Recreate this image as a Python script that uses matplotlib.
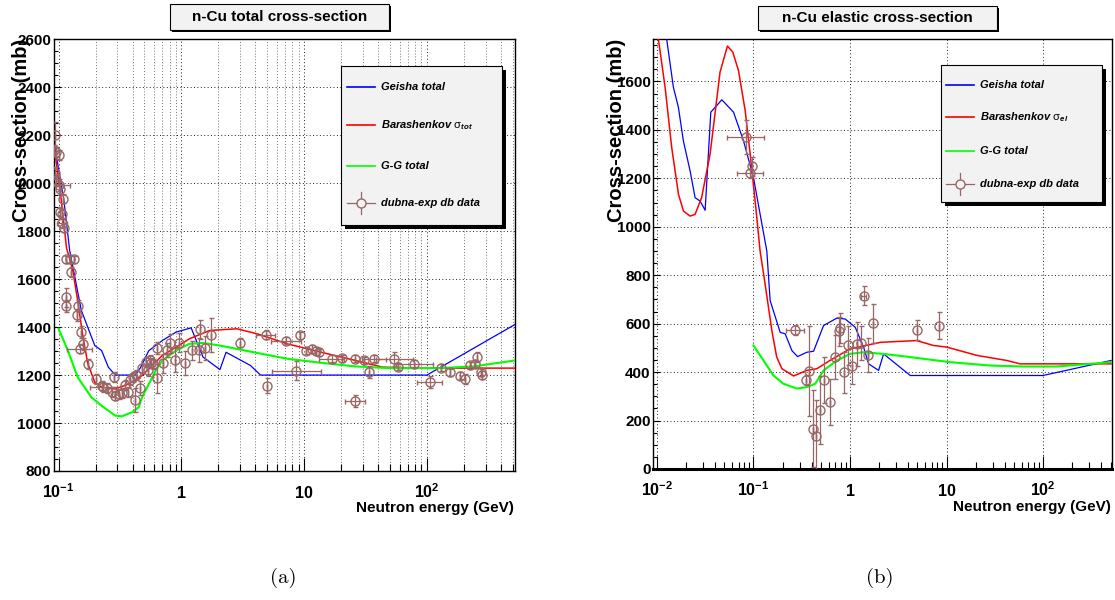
import numpy as np
import matplotlib
matplotlib.use('Agg')
import matplotlib.pyplot as plt
from matplotlib.patches import Rectangle
from matplotlib.lines import Line2D
from matplotlib.ticker import FixedLocator, LogLocator, MultipleLocator, NullFormatter
from matplotlib import font_manager

# ---------------- data: n-Cu total cross-section (mb) ----------------
geisha_tot_E = [0.094, 0.11, 0.123, 0.153, 0.197, 0.224, 0.254, 0.289, 0.422, 0.463, 0.543,
                0.70, 0.903, 1.20, 1.50, 2.06, 2.31, 3.65, 4.41, 100, 521]
geisha_tot = [2140, 1935, 1720, 1470, 1323, 1302, 1233, 1200, 1200, 1230, 1302,
              1344, 1379, 1397, 1275, 1223, 1295, 1240, 1200, 1200, 1411]

bar_tot_E = [0.092, 0.104, 0.116, 0.130, 0.143, 0.158, 0.173, 0.197, 0.224, 0.289, 0.372, 0.478,
             0.579, 0.70, 0.903, 1.16, 1.70, 2.83, 4.14, 7.3, 13.8, 26.1, 43.3, 92.7, 521]
bar_tot = [2150, 1950, 1730, 1640, 1511, 1358, 1247, 1170, 1149, 1142, 1163, 1198,
           1240, 1282, 1316, 1351, 1386, 1393, 1372, 1330, 1295, 1261, 1233, 1229, 1229]

gg_tot_E = [0.1, 0.119, 0.143, 0.185, 0.224, 0.289, 0.327, 0.396, 0.449, 0.478, 0.543, 0.618,
            0.70, 0.903, 1.16, 1.50, 2.06, 3.89, 7.3, 13.8, 26.1, 49.2, 127, 240, 521]
gg_tot = [1393, 1302, 1191, 1107, 1072, 1031, 1028, 1045, 1066, 1107, 1163, 1219,
          1261, 1302, 1330, 1334, 1323, 1295, 1268, 1251, 1236, 1229, 1229, 1236, 1261]

# experimental points: energy, value, y error, half-width of x error in log10(E)
exp_tot_E = [0.0935, 0.0918, 0.096, 0.101, 0.0935, 0.096, 0.100, 0.103, 0.109, 0.103, 0.107,
             0.106, 0.110, 0.114, 0.123, 0.133, 0.127, 0.114, 0.114, 0.143, 0.141, 0.153,
             0.158, 0.148, 0.175, 0.20, 0.23, 0.224, 0.25, 0.27, 0.28, 0.29, 0.31, 0.33,
             0.35, 0.37, 0.38, 0.40, 0.42, 0.43, 0.46, 0.48, 0.51, 0.53, 0.55, 0.57, 0.59,
             0.63, 0.63, 0.71, 0.76, 0.81, 0.89, 0.96, 1.07, 1.21, 1.39, 1.41, 1.56, 1.74,
             3.0, 4.85, 5.0, 7.1, 8.6, 9.2, 10.4, 11.5, 12.5, 13.2, 16.7, 20.2, 26, 26,
             30.5, 33.6, 37, 54, 57.7, 79, 105, 131, 154, 186, 205, 226, 248, 256, 273, 282]
exp_tot = [2200, 2140, 2130, 2117, 2042, 2012, 1992, 1975, 1936, 1880, 1870,
           1832, 1815, 1682, 1682, 1682, 1630, 1525, 1490, 1490, 1449, 1379,
           1330, 1310, 1247, 1184, 1149, 1156, 1145, 1130, 1191, 1114, 1121, 1125,
           1158, 1130, 1179, 1193, 1096, 1200, 1146, 1228, 1255, 1221, 1262, 1250, 1245,
           1186, 1311, 1249, 1304, 1332, 1262, 1335, 1249, 1304, 1304, 1390, 1311, 1367,
           1335, 1369, 1156, 1344, 1219, 1365, 1302, 1309, 1300, 1295, 1268, 1270, 1268, 1091,
           1262, 1212, 1268, 1268, 1235, 1247, 1170, 1230, 1212, 1198, 1184, 1240, 1248, 1275, 1212, 1200]
exp_tot_err = [55, 20, 20, 20, 25, 25, 25, 20, 20, 20, 20,
               20, 20, 15, 15, 15, 20, 40, 25, 25, 25, 25,
               25, 20, 20, 20, 20, 20, 20, 20, 20, 20, 20, 20,
               20, 20, 20, 20, 50, 20, 30, 20, 20, 25, 20, 20, 20,
               60, 25, 40, 30, 40, 50, 40, 50, 40, 50, 40, 50, 70,
               20, 20, 30, 15, 40, 15, 15, 15, 15, 15, 15, 15, 15, 25,
               15, 25, 15, 30, 15, 15, 25, 15, 15, 15, 20, 15, 15, 20, 15, 15]
exp_tot_dlogE = [0, 0, 0, 0, 0, 0, 0.09, 0, 0, 0, 0,
                 0.04, 0, 0, 0, 0, 0, 0, 0, 0, 0, 0,
                 0, 0.105, 0, 0, 0.11, 0, 0, 0, 0, 0, 0, 0,
                 0, 0, 0, 0, 0, 0, 0, 0, 0, 0, 0, 0, 0,
                 0, 0, 0, 0, 0, 0, 0, 0, 0, 0, 0, 0, 0,
                 0, 0.08, 0, 0.12, 0.2, 0, 0, 0, 0, 0, 0.1, 0, 0, 0.08,
                 0, 0, 0.1, 0.15, 0, 0.15, 0.1, 0, 0, 0, 0, 0, 0, 0, 0, 0]

# ---------------- data: n-Cu elastic cross-section (mb) ----------------
geisha_el_E = [0.01262, 0.01479, 0.01667, 0.01878, 0.02203, 0.02483, 0.02799, 0.03155, 0.03612,
               0.04699, 0.06209, 0.07877, 0.1, 0.1172, 0.1374, 0.1488, 0.1891, 0.2130, 0.2498,
               0.2860, 0.3574, 0.4190, 0.5318, 0.7313, 0.8927, 1.133, 1.382, 1.559, 1.978,
               2.228, 4.212, 100, 507]
geisha_el = [1773, 1576, 1493, 1354, 1231, 1120, 1106, 1068, 1473,
             1524, 1473, 1355, 1203, 1051, 900, 695, 564, 558, 489,
             464, 482, 486, 592, 623, 619, 585, 503, 434, 407,
             475, 386, 386, 448]

bar_el_E = [0.01035, 0.01214, 0.0142, 0.0167, 0.0188, 0.022, 0.0248, 0.029, 0.0355, 0.045,
            0.0537, 0.0610, 0.0699, 0.0820, 0.0924, 0.1057, 0.117, 0.132, 0.155, 0.174,
            0.197, 0.26, 0.357, 0.454, 0.62, 1.0, 2.07, 4.9, 7.3, 10.1, 20.6, 42, 58, 507]
bar_el = [1773, 1576, 1328, 1134, 1065, 1044, 1051, 1120, 1300, 1638,
          1746, 1721, 1645, 1480, 1300, 1079, 900, 763, 571, 462,
          414, 384, 407, 414, 448, 496, 523, 530, 510, 503, 469, 448, 434, 434]

gg_el_E = [0.1, 0.127, 0.161, 0.204, 0.281, 0.357, 0.436, 0.532, 0.731, 1.0, 1.38, 2.23,
           4.2, 10.9, 28.5, 63, 138, 507]
gg_el = [510, 448, 386, 352, 332, 338, 352, 407, 448, 475, 482, 475,
         462, 441, 427, 423, 423, 441]

exp_el_E = [0.0833, 0.096, 0.092, 0.270, 0.349, 0.378, 0.412, 0.447, 0.483, 0.544, 0.614,
            0.703, 0.761, 0.792, 0.871, 0.951, 1.06, 1.18, 1.30, 1.38, 1.53, 1.73, 4.94, 8.28]
exp_el = [1372, 1249, 1220, 574, 366, 404, 167, 136, 245, 366, 277,
          462, 569, 582, 400, 510, 427, 516, 520, 715, 470, 601, 574, 592]
exp_el_err = [70, 40, 20, 20, 20, 185, 160, 150, 140, 95, 95,
              90, 60, 60, 85, 80, 75, 90, 70, 40, 70, 80, 40, 55]
exp_el_dlogE = [0.19, 0, 0.13, 0.09, 0, 0, 0, 0, 0, 0, 0,
                0, 0, 0, 0, 0, 0, 0, 0, 0.03, 0, 0, 0, 0]

# ---------------- styling ----------------
names = {f.name for f in font_manager.fontManager.ttflist}
NARROW = 'Liberation Sans Narrow' if 'Liberation Sans Narrow' in names else 'Liberation Sans'
SANS = 'Liberation Sans'

plt.rcParams['font.family'] = [SANS, 'DejaVu Sans']
plt.rcParams['mathtext.fontset'] = 'custom'
plt.rcParams['mathtext.rm'] = SANS
plt.rcParams['mathtext.bf'] = SANS + ':bold'
plt.rcParams['mathtext.it'] = NARROW + ':bold:italic'

BLUE, RED, GREEN, EXP = '#0000ff', '#ff0000', '#00ff00', '#996666'

W, H = 1115, 600
fig = plt.figure(figsize=(W / 100, H / 100), dpi=100)


def fx(x):
    return x / W


def fy(y):
    return 1 - y / H


def xerr_from(E, dlog):
    E = np.asarray(E, float)
    d = np.asarray(dlog, float)
    return np.vstack([E - E * 10 ** (-d), E * 10 ** d - E])


def style_axes(ax, xlabels, ymax, yticks, minor_grid):
    ax.set_xscale('log')
    ax.set_ylim(yticks[0], ymax)
    ax.xaxis.set_major_locator(FixedLocator(list(xlabels.keys())))
    ax.xaxis.set_minor_locator(LogLocator(base=10, subs=np.arange(2, 10)))
    ax.xaxis.set_major_formatter(NullFormatter())
    ax.xaxis.set_minor_formatter(NullFormatter())
    ax.yaxis.set_major_locator(FixedLocator(yticks))
    ax.yaxis.set_minor_locator(MultipleLocator(50))
    ax.tick_params(axis='x', which='major', direction='in', length=9.4, width=0.8)
    ax.tick_params(axis='x', which='minor', direction='in', length=4.7, width=0.8)
    ax.tick_params(axis='y', which='major', direction='in', length=5, width=0.8, pad=2,
                   labelsize=11)
    ax.tick_params(axis='y', which='minor', direction='in', length=2.8, width=0.8)
    for lab in ax.get_yticklabels():
        lab.set_fontweight('bold')
    ax.grid(True, which='major', color='#222222', linestyle=(0, (1, 2.5)), linewidth=0.7)
    if minor_grid:
        ax.grid(True, which='minor', axis='x', color='#444444', linestyle=(0, (1, 2.5)),
                linewidth=0.6)
    for s in ax.spines.values():
        s.set_linewidth(1.0)
    # x tick labels aligned on a common baseline, as ROOT does
    tr = ax.get_xaxis_transform()
    for E, txt in xlabels.items():
        ax.text(E, -0.062, txt, transform=tr, ha='center', va='baseline', fontsize=11.5,
                fontweight='bold', clip_on=False)


def plot_panel(ax, curves, exp):
    for E, v, c, lw in curves:
        ax.plot(E, v, color=c, lw=lw, zorder=3)
    E, v, err, dlog = exp
    ax.errorbar(E, v, yerr=err, xerr=xerr_from(E, dlog), fmt='o', ms=6.5, mfc='none',
                mec=EXP, mew=1.0, ecolor=EXP, elinewidth=0.9, capsize=1.8, capthick=0.9,
                zorder=4)


def draw_box(x0, y0, x1, y1, shadow):
    fig.patches.append(Rectangle((fx(x0 + shadow), fy(y1 + shadow)), fx(x1) - fx(x0),
                                 fy(y0) - fy(y1), transform=fig.transFigure,
                                 fc='black', ec='none'))
    fig.patches.append(Rectangle((fx(x0), fy(y1)), fx(x1) - fx(x0), fy(y0) - fy(y1),
                                 transform=fig.transFigure, fc='#f2f2f2', ec='black', lw=0.8))


def draw_legend(box, rows, lx0, lx1, tx, labels):
    draw_box(*box, shadow=4)
    colors = [BLUE, RED, GREEN]
    for i, (yc, lab) in enumerate(zip(rows, labels)):
        if i < 3:
            fig.lines.append(Line2D([fx(lx0), fx(lx1)], [fy(yc), fy(yc)],
                                    transform=fig.transFigure, color=colors[i], lw=1.2))
        else:
            xm = (lx0 + lx1) / 2
            fig.lines.append(Line2D([fx(lx0), fx(lx1)], [fy(yc), fy(yc)],
                                    transform=fig.transFigure, color=EXP, lw=0.9))
            fig.lines.append(Line2D([fx(xm), fx(xm)], [fy(yc - 11), fy(yc + 11)],
                                    transform=fig.transFigure, color=EXP, lw=0.9))
            fig.lines.append(Line2D([fx(xm)], [fy(yc)], transform=fig.transFigure,
                                    marker='o', ms=6.5, mfc='#f2f2f2', mec=EXP, mew=1.0))
        fig.text(fx(tx), fy(yc), lab, ha='left', va='center', fontsize=8,
                 fontfamily=NARROW, fontweight='bold', fontstyle='italic')


# ---------------- left panel ----------------
ax1 = fig.add_axes([fx(54), fy(471), fx(515) - fx(54), fy(39.3) - fy(471)])
ax1.set_xlim(0.0917, 521)
plot_panel(ax1, [(geisha_tot_E, geisha_tot, BLUE, 0.9),
                 (bar_tot_E, bar_tot, RED, 1.1),
                 (gg_tot_E, gg_tot, GREEN, 1.5)],
           (exp_tot_E, exp_tot, exp_tot_err, exp_tot_dlogE))
style_axes(ax1, {0.1: r'$\mathbf{10^{-1}}$', 1: '1', 10: '10', 100: r'$\mathbf{10^{2}}$'},
           2600, list(range(800, 2601, 200)), True)

# ---------------- right panel ----------------
ax2 = fig.add_axes([fx(653.3), fy(469), fx(1111.5) - fx(653.3), fy(39) - fy(469)])
ax2.set_xlim(0.00916, 512)
plot_panel(ax2, [(geisha_el_E, geisha_el, BLUE, 0.9),
                 (bar_el_E, bar_el, RED, 1.1),
                 (gg_el_E, gg_el, GREEN, 1.5)],
           (exp_el_E, exp_el, exp_el_err, exp_el_dlogE))
style_axes(ax2, {0.01: r'$\mathbf{10^{-2}}$', 0.1: r'$\mathbf{10^{-1}}$', 1: '1', 10: '10',
                 100: r'$\mathbf{10^{2}}$'},
           1775, list(range(0, 1601, 200)), False)
ax2.spines['bottom'].set_linewidth(2.2)

# ---------------- titles, axis titles, legends, captions ----------------
draw_box(170, 4, 389, 30, shadow=2)
fig.text(fx(279.5), fy(17), 'n-Cu total cross-section', ha='center', va='center',
         fontsize=11, fontweight='bold', fontfamily=NARROW)
draw_box(758, 6, 997, 30, shadow=2)
fig.text(fx(877.5), fy(18), 'n-Cu elastic cross-section', ha='center', va='center',
         fontsize=11, fontweight='bold', fontfamily=NARROW)

for xr, yb in [(514, 512), (1111, 511)]:
    fig.text(fx(xr), fy(yb), 'Neutron energy (GeV)', ha='right', va='baseline',
             fontsize=11, fontweight='bold', fontfamily=NARROW)
for xc in [22, 617]:
    fig.text(fx(xc), fy(39), 'Cross-section (mb)', rotation=90, ha='center', va='top',
             fontsize=14.5, fontweight='bold', fontfamily=NARROW)

draw_legend((341, 66, 502, 225), [87, 125, 166, 203], 347, 375, 381,
            ['Geisha total', r'Barashenkov $\mathrm{\sigma}_{tot}$', 'G-G total',
             'dubna-exp db data'])
draw_legend((941, 65, 1102, 202), [85, 117, 151, 184], 946, 974, 980,
            ['Geisha total', r'Barashenkov $\mathrm{\sigma}_{el}$', 'G-G total',
             'dubna-exp db data'])

fig.text(fx(283), fy(578), '(a)', ha='center', va='center', fontsize=15,
         fontfamily=['cmr10', 'DejaVu Serif'])
fig.text(fx(880), fy(578), '(b)', ha='center', va='center', fontsize=15,
         fontfamily=['cmr10', 'DejaVu Serif'])

fig.savefig('out.png', dpi=100)
